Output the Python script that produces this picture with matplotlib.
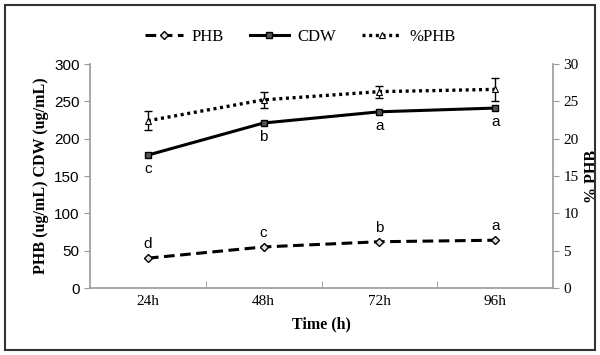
import matplotlib.pyplot as plt
import numpy as np

# dane
czas = ['24h', '48h', '72h', '96h']
phb = [40, 55, 62, 64]
cdw = [178, 221, 236, 241]
proc_phb = [22.4, 25.2, 26.3, 26.6]
proc_phb_err = [1.3, 1.1, 0.8, 1.5]
litery_phb = ['d', 'c', 'b', 'a']
litery_cdw = ['c', 'b', 'a', 'a']

serif = 'Liberation Serif'
sans = 'Liberation Sans'
szary = '#9a9a9a'

fig = plt.figure(figsize=(6, 3.55), dpi=100)
ax = fig.add_axes([0.15, 0.1887, 0.7717, 0.631])
ax2 = ax.twinx()

x = np.arange(len(czas))

l1, = ax.plot(x, phb, linestyle=(0, (3.5, 1.8)), color='black', linewidth=2.2,
              marker='D', markersize=4, markerfacecolor='#dddddd',
              markeredgecolor='black', markeredgewidth=1, label='PHB')
l2, = ax.plot(x, cdw, linestyle='-', color='black', linewidth=2.2,
              marker='s', markersize=4, markerfacecolor='#555555',
              markeredgecolor='black', label='CDW')
ax2.errorbar(x, proc_phb, yerr=proc_phb_err, fmt='none', ecolor='black',
             elinewidth=1, capsize=3, capthick=1)
l3, = ax2.plot(x, proc_phb, linestyle=(0, (0.9, 1.1)), color='black', linewidth=2.4,
               marker='^', markersize=5, markerfacecolor='white',
               markeredgecolor='black', markeredgewidth=0.8, label='%PHB')

for i in range(len(czas)):
    ax.annotate(litery_phb[i], (x[i], phb[i]), xytext=(0, 5), textcoords='offset points',
                ha='center', va='bottom', fontsize=11, family=sans)
    ax.annotate(litery_cdw[i], (x[i], cdw[i]), xytext=(0, -5), textcoords='offset points',
                ha='center', va='top', fontsize=11, family=sans)

ax.set_xlim(-0.5, 3.5)
ax.set_ylim(0, 300)
ax2.set_ylim(0, 30)
ax.set_yticks(range(0, 301, 50))
ax2.set_yticks(range(0, 31, 5))
ax.set_xticks(x)
ax.set_xticklabels(czas, family=serif, fontsize=11)
ax.set_xticks([0.5, 1.5, 2.5], minor=True)
ax.tick_params(axis='x', which='major', length=0, pad=5)
ax.tick_params(axis='x', which='minor', length=5, color=szary, direction='in')
ax.tick_params(axis='y', length=4, color=szary, labelsize=11)
ax2.tick_params(axis='y', length=4, color=szary, labelsize=11)
for t in ax.get_yticklabels():
    t.set_family(sans)
for t in ax2.get_yticklabels():
    t.set_family(serif)

for a in (ax, ax2):
    a.spines['top'].set_visible(False)
    for s in ('left', 'right', 'bottom'):
        a.spines[s].set_color(szary)
        a.spines[s].set_linewidth(1.2)
ax.spines['right'].set_visible(False)
ax2.spines['left'].set_visible(False)
ax2.spines['bottom'].set_visible(False)

ax.set_xlabel('Time (h)', family=serif, fontweight='bold', fontsize=11.5, labelpad=6)
ax.set_ylabel('PHB (ug/mL) CDW (ug/mL)', family=serif, fontweight='bold', fontsize=11.5, labelpad=4)
ax2.set_ylabel('% PHB', family=serif, fontweight='bold', fontsize=11.5, labelpad=4)

fig.legend(handles=[l1, l2, l3], loc='center', bbox_to_anchor=(0.5, 0.895), ncol=3,
           frameon=False, prop={'family': serif, 'size': 12}, handlelength=2.3,
           columnspacing=1.6, handletextpad=0.5)

# ramka wokół całego rysunku
fig.patches.append(plt.Rectangle((0.009, 0.014), 0.983, 0.972, transform=fig.transFigure,
                                 fill=False, edgecolor='#333333', linewidth=1.5))

plt.savefig('out.png', dpi=100)
